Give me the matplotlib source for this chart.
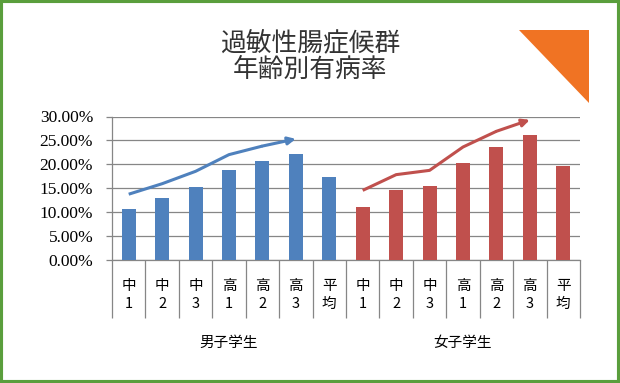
import matplotlib.pyplot as plt
import matplotlib as mpl
from matplotlib.patches import Rectangle, Polygon
import numpy as np

mpl.rcParams["font.family"] = ["Noto Sans CJK JP", "DejaVu Sans"]

# データ
categories = ["中\n1", "中\n2", "中\n3", "高\n1", "高\n2", "高\n3", "平\n均"]
groups = ["男子学生", "女子学生"]
male_rates = [10.5, 12.8, 15.3, 18.7, 20.6, 22.2, 17.4]
female_rates = [11.1, 14.5, 15.5, 20.3, 23.7, 26.2, 19.7]
# 矢印 (傾向線) の値
male_trend = [13.7, 15.9, 18.5, 22.0, 23.8, 25.3]
female_trend = [14.5, 17.8, 18.7, 23.6, 26.9, 29.3]
y_ticks = [0, 5, 10, 15, 20, 25, 30]

BLUE = "#4F81BD"
RED = "#C0504D"
GRID = "#868686"
W, H = 620, 383

fig = plt.figure(figsize=(W / 100, H / 100), dpi=100)
ax = fig.add_axes([112 / W, 123.5 / H, 468 / W, 143 / H])

n = len(categories)
x_m = np.arange(n)
x_f = np.arange(n) + n

ax.bar(x_m, male_rates, 0.42, color=BLUE, zorder=3)
ax.bar(x_f, female_rates, 0.42, color=RED, zorder=3)

# 傾向線 + 矢印
for xs, ys, c in [(x_m[:len(male_trend)], male_trend, BLUE),
                  (x_f[:len(female_trend)], female_trend, RED)]:
    ax.plot(xs[:-1], ys[:-1], color=c, lw=2.2, solid_capstyle="butt", zorder=4)
    ax.annotate("", xy=(xs[-1], ys[-1]), xytext=(xs[-2], ys[-2]),
                arrowprops=dict(arrowstyle="-|>,head_length=0.45,head_width=0.22",
                                color=c, lw=2.2, shrinkA=0, shrinkB=0),
                zorder=4)

ax.set_xlim(-0.5, 2 * n - 0.5)
ax.set_ylim(0, 30)
ax.set_yticks(y_ticks)
ax.set_yticklabels([f"{v:.2f}%" for v in y_ticks], family="Liberation Serif", fontsize=12.5)
ax.yaxis.grid(True, color=GRID, lw=0.9, zorder=0)
ax.tick_params(axis="y", length=4, color=GRID, width=0.9, pad=9.5)

# x軸: 区切り線
ax.set_xticks(np.arange(-0.5, 2 * n, 1.0))
ax.set_xticklabels([])
ax.set_xticks([-0.5, n - 0.5, 2 * n - 0.5], minor=True)
ax.tick_params(axis="x", which="major", length=42, color=GRID, width=0.9)
ax.tick_params(axis="x", which="minor", length=68, color=GRID, width=0.9)

for s in ["top", "right"]:
    ax.spines[s].set_visible(False)
for s in ["left", "bottom"]:
    ax.spines[s].set_color(GRID)
    ax.spines[s].set_linewidth(0.9)

for i, lab in enumerate(categories * 2):
    ax.annotate(lab, xy=(i, 0), xycoords=("data", "axes fraction"),
                xytext=(0, -25.5), textcoords="offset points",
                ha="center", va="center", fontsize=10.5, linespacing=1.4)
for g, name in enumerate(groups):
    ax.annotate(name, xy=(g * n + (n - 1) / 2, 0), xycoords=("data", "axes fraction"),
                xytext=(0, -60), textcoords="offset points",
                ha="center", va="center", fontsize=10.5)

# タイトル
fig.text(310 / W, 1 - 43 / H, "過敏性腸症候群", ha="center", va="center", fontsize=18.5, color="#333333")
fig.text(310 / W, 1 - 70 / H, "年齢別有病率", ha="center", va="center", fontsize=18.5, color="#333333")

# 右上の三角形
tri = [(519.3, 30), (588.7, 30), (588.7, 103.3)]
fig.patches.append(Polygon([(px / W, 1 - py / H) for px, py in tri], closed=True,
                           transform=fig.transFigure, color="#F07323", lw=0))

# 緑の枠
fig.patches.append(Rectangle((0, 0), 1, 1, transform=fig.transFigure, fill=False,
                             edgecolor="#5A9E3C", lw=4.4))

fig.savefig("out.png", dpi=100)
